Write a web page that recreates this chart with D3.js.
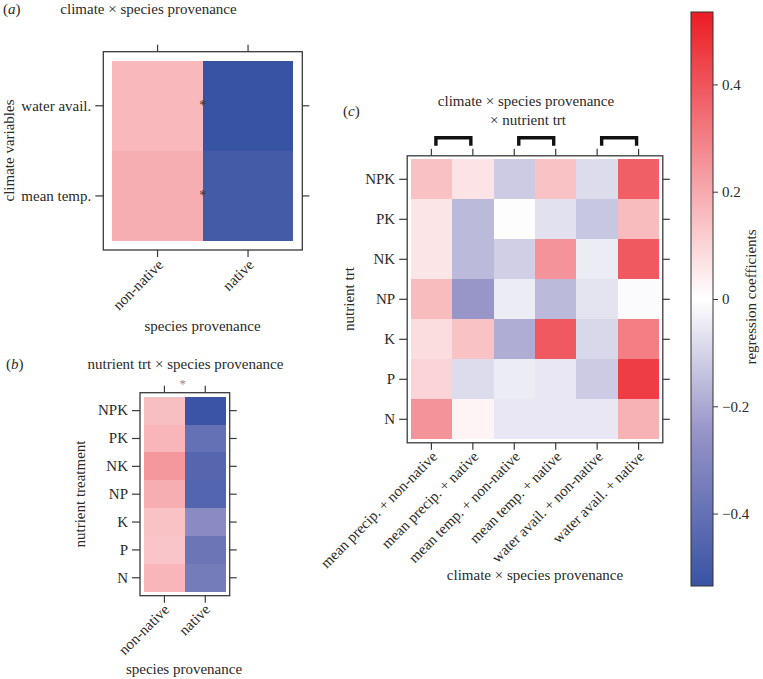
<!DOCTYPE html>
<html>
<head>
<meta charset="utf-8">
<script src="https://cdn.jsdelivr.net/npm/d3@7"></script>
<style>
body { margin: 0; background: #fff; }
text { fill: #2a2a2a; }
</style>
</head>
<body>
<script>
// panel (a)
var provenance = ["non-native", "native"];
var climateA = ["water avail.", "mean temp."];
var aNonNative = [0.165, 0.19];
var aNative = [-0.535, -0.50];
var aStars = ["water avail.", "mean temp."];

// panel (b)
var nutrients = ["NPK", "PK", "NK", "NP", "K", "P", "N"];
var bNonNative = [0.15, 0.17, 0.24, 0.19, 0.14, 0.135, 0.17];
var bNative = [-0.53, -0.40, -0.45, -0.455, -0.287, -0.378, -0.354];

// panel (c)
var combos = ["mean precip. + non-native", "mean precip. + native",
  "mean temp. + non-native", "mean temp. + native",
  "water avail. + non-native", "water avail. + native"];
var cNPK = [0.145, 0.065, -0.12, 0.14, -0.08, 0.375];
var cPK = [0.06, -0.16, -0.005, -0.07, -0.13, 0.16];
var cNK = [0.06, -0.16, -0.11, 0.25, -0.045, 0.39];
var cNP = [0.16, -0.245, -0.045, -0.16, -0.065, -0.01];
var cK = [0.08, 0.14, -0.19, 0.39, -0.09, 0.30];
var cP = [0.10, -0.08, -0.045, -0.055, -0.12, 0.457];
var cN = [0.25, 0.025, -0.055, -0.055, -0.055, 0.18];
var bracketPairs = [[0, 1], [2, 3], [4, 5]];

// colour key
var barTicks = [-0.4, -0.2, 0, 0.2, 0.4];
var barRange = [-0.535, 0.535];

var FONT = '"Liberation Serif", "Times New Roman", serif';
var FS = 15;

var svg = d3.select("body").append("svg")
    .attr("width", 763)
    .attr("height", 679);

var color = d3.scaleLinear()
    .domain([-0.535, -0.25, 0, 0.25, 0.535])
    .range(["#3953a4", "#9693c7", "#ffffff", "#f4949a", "#ec1c24"]);

function label(x, y, txt, size, anchor) {
  return svg.append("text")
      .attr("x", x).attr("y", y)
      .attr("font-family", FONT)
      .attr("font-size", size || FS)
      .attr("text-anchor", anchor || "middle")
      .text(txt);
}

function panelTag(x, y, letter) {
  var t = svg.append("text").attr("x", x).attr("y", y)
      .attr("font-family", FONT).attr("font-size", FS);
  t.append("tspan").text("(");
  t.append("tspan").attr("font-style", "italic").text(letter);
  t.append("tspan").text(")");
}

function vlabel(x, y, txt) {
  svg.append("text")
      .attr("transform", "translate(" + x + "," + y + ") rotate(-90)")
      .attr("font-family", FONT)
      .attr("font-size", FS)
      .attr("text-anchor", "middle")
      .text(txt);
}

function heatmap(cfg) {
  var x = d3.scaleBand().domain(cfg.cols).range([cfg.left, cfg.right]);
  var y = d3.scaleBand().domain(cfg.rows).range([cfg.top, cfg.bottom]);
  var g = svg.append("g");

  g.append("g").selectAll("rect")
      .data(cfg.cells)
      .join("rect")
      .attr("x", function (d) { return x(d.col); })
      .attr("y", function (d) { return y(d.row); })
      .attr("width", x.bandwidth())
      .attr("height", y.bandwidth())
      .attr("fill", function (d) { return color(d.value); })
      .attr("shape-rendering", "crispEdges");

  var fl = cfg.left - cfg.pad, fr = cfg.right + cfg.pad,
      ft = cfg.top - cfg.pad, fb = cfg.bottom + cfg.pad;

  g.append("rect")
      .attr("x", fl).attr("y", ft)
      .attr("width", fr - fl).attr("height", fb - ft)
      .attr("fill", "none")
      .attr("stroke", "#3a3a3a")
      .attr("stroke-width", 1.3);

  var left = g.append("g").attr("transform", "translate(" + fl + ",0)")
      .call(d3.axisLeft(y).tickSize(8).tickSizeOuter(0).tickPadding(4));
  var right = g.append("g").attr("transform", "translate(" + fr + ",0)")
      .call(d3.axisRight(y).tickSize(7).tickSizeOuter(0).tickFormat(""));
  var top = g.append("g").attr("transform", "translate(0," + ft + ")")
      .call(d3.axisTop(x).tickSize(7).tickSizeOuter(0).tickFormat(""));
  var bottom = g.append("g").attr("transform", "translate(0," + fb + ")")
      .call(d3.axisBottom(x).tickSize(7).tickSizeOuter(0));

  [left, right, top, bottom].forEach(function (a) {
    a.select(".domain").remove();
    a.attr("color", "#3a3a3a").attr("font-family", FONT).attr("font-size", FS);
    a.selectAll("line").attr("stroke-width", 1.2);
  });

  bottom.selectAll("text")
      .attr("x", 0).attr("y", 0).attr("dy", "0.35em")
      .attr("text-anchor", "end")
      .attr("transform", "translate(" + cfg.labelDx + "," + cfg.labelDy + ") rotate(-45)");

  return { x: x, y: y, g: g };
}

// ---- panel (a)
var cellsA = [];
climateA.forEach(function (r, i) {
  cellsA.push({ row: r, col: "non-native", value: aNonNative[i] });
  cellsA.push({ row: r, col: "native", value: aNative[i] });
});
var pa = heatmap({ cols: provenance, rows: climateA, cells: cellsA,
  left: 112.3, right: 293.3, top: 60.7, bottom: 241, pad: 9, labelDx: 3, labelDy: 12 });

pa.g.selectAll(".star")
    .data(aStars)
    .join("text")
    .attr("class", "star")
    .attr("x", pa.x("native"))
    .attr("y", function (d) { return pa.y(d) + pa.y.bandwidth() / 2 + 4; })
    .attr("text-anchor", "middle")
    .attr("font-family", FONT)
    .attr("font-size", 14)
    .style("fill", "#333")
    .text("*");

panelTag(3, 14, "a");
label(148.5, 14, "climate \u00d7 species provenance");
label(202.5, 331, "species provenance");
vlabel(14, 150.5, "climate variables");

// ---- panel (b)
var cellsB = [];
nutrients.forEach(function (r, i) {
  cellsB.push({ row: r, col: "non-native", value: bNonNative[i] });
  cellsB.push({ row: r, col: "native", value: bNative[i] });
});
var pb = heatmap({ cols: provenance, rows: nutrients, cells: cellsB,
  left: 144, right: 225.7, top: 396.7, bottom: 591.7, pad: 4, labelDx: 2, labelDy: 11 });

svg.append("text")
    .attr("x", pb.x("native") - 2)
    .attr("y", 388)
    .attr("text-anchor", "middle")
    .attr("font-family", FONT)
    .attr("font-size", 13)
    .style("fill", "#8a8a8a")
    .text("*");

panelTag(6, 369, "b");
label(185.5, 369, "nutrient trt \u00d7 species provenance");
label(184, 674, "species provenance");
vlabel(85, 494, "nutrient treatment");

// ---- panel (c)
var cRows = [cNPK, cPK, cNK, cNP, cK, cP, cN];
var cellsC = [];
nutrients.forEach(function (r, i) {
  combos.forEach(function (c, j) {
    cellsC.push({ row: r, col: c, value: cRows[i][j] });
  });
});
var pc = heatmap({ cols: combos, rows: nutrients, cells: cellsC,
  left: 410.7, right: 659.3, top: 159.3, bottom: 439.3, pad: 3.5, labelDx: 3, labelDy: 11 });

pc.g.selectAll(".bracket")
    .data(bracketPairs)
    .join("path")
    .attr("class", "bracket")
    .attr("d", function (d) {
      var x0 = pc.x(combos[d[0]]) + pc.x.bandwidth() / 2 + 4.5;
      var x1 = pc.x(combos[d[1]]) + pc.x.bandwidth() / 2 - 2;
      return "M" + x0 + ",145.7V137.8H" + x1 + "V145.7";
    })
    .attr("fill", "none")
    .attr("stroke", "#111")
    .attr("stroke-width", 3.4);

panelTag(343, 116, "c");
label(526, 106, "climate \u00d7 species provenance");
label(528, 124.5, "\u00d7 nutrient trt");
label(535, 580, "climate \u00d7 species provenance");
vlabel(354, 299, "nutrient trt");

// ---- colour key
var cbY = d3.scaleLinear().domain(barRange).range([586, 12]);
var grad = svg.append("defs").append("linearGradient")
    .attr("id", "cb")
    .attr("x1", 0).attr("y1", 1).attr("x2", 0).attr("y2", 0);
grad.selectAll("stop")
    .data(color.domain())
    .join("stop")
    .attr("offset", function (d) { return (d - barRange[0]) / (barRange[1] - barRange[0]); })
    .attr("stop-color", function (d) { return color(d); });

svg.append("rect")
    .attr("x", 691).attr("y", cbY(barRange[1]))
    .attr("width", 22).attr("height", cbY(barRange[0]) - cbY(barRange[1]))
    .attr("fill", "url(#cb)")
    .attr("stroke", "#333")
    .attr("stroke-width", 1);

var cbAxis = svg.append("g")
    .attr("transform", "translate(713,0)")
    .call(d3.axisRight(cbY).tickValues(barTicks).tickSize(5).tickPadding(4)
      .tickFormat(function (d) { return d === 0 ? "0" : d3.format(".1f")(d); }));
cbAxis.select(".domain").remove();
cbAxis.attr("color", "#3a3a3a").attr("font-family", FONT).attr("font-size", FS);

vlabel(756, 297, "regression coefficients");
</script>
</body>
</html>
